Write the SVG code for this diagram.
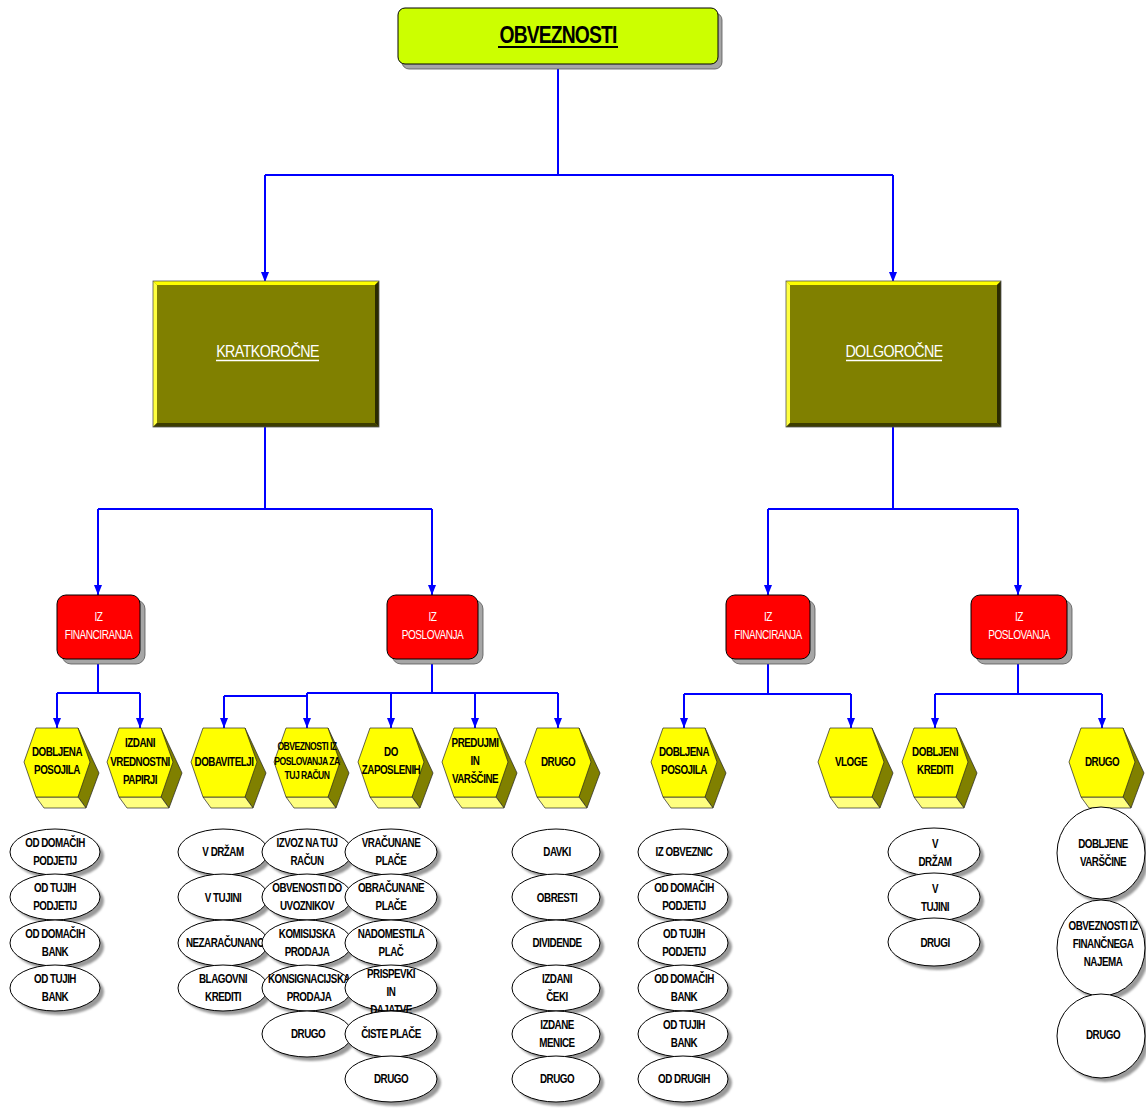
<svg xmlns="http://www.w3.org/2000/svg" xmlns:xlink="http://www.w3.org/1999/xlink" width="1146" height="1109" viewBox="0 0 1146 1109">
  <style>
    .t { font-family: "Liberation Sans", Arial, sans-serif; font-size: 12px; font-weight: bold; letter-spacing: -0.6px; text-anchor: middle; fill: #000; }
    .ts { font-size: 10px; }
    .tw { fill: #fff; font-weight: normal; }
    .title { font-family: "Liberation Sans", Arial, sans-serif; font-size: 23px; font-weight: bold; letter-spacing: -1px; text-anchor: middle; fill: #000; }
    .big { font-family: "Liberation Sans", Arial, sans-serif; font-size: 17px; letter-spacing: -0.7px; text-anchor: middle; fill: #fff; }
    .cn path { fill: none; stroke: #0000FF; stroke-width: 2; }
    .cn .ar { marker-end: url(#ah); }
    .shadow { fill: #a6a6a6; stroke: #555; stroke-width: 0.8; }
    .red { fill: #FF0000; stroke: #000; stroke-width: 1; }
    .el { fill: #fff; stroke: #000; stroke-width: 1; }
    .esh { fill: #9a9a9a; filter: url(#soft); }
  </style>
  <defs>
    <marker id="ah" viewBox="0 0 10 8" refX="10" refY="4" markerWidth="10" markerHeight="8" markerUnits="userSpaceOnUse" orient="auto">
      <path d="M0,0 L10,4 L0,8 z" fill="#0000FF"/>
    </marker>
    <filter id="soft" x="-10%" y="-10%" width="120%" height="120%">
      <feGaussianBlur stdDeviation="1"/>
    </filter>
    <!-- hexagonal prism, origin at the centre of the top edge -->
    <g id="hex">
      <polygon points="21,0 42,45 29,80 21,69" fill="#808000" stroke="#222" stroke-width="0.7"/>
      <polygon points="-21,69 21,69 29,80 -13,80" fill="#FFFF80" stroke="#222" stroke-width="0.7"/>
      <polygon points="-21,0 21,0 33,34 21,69 -21,69 -33,34" fill="#FFFF00" stroke="#222" stroke-width="0.7"/>
    </g>
  </defs>

  <rect width="1146" height="1109" fill="#fff"/>

  <!-- connectors -->
  <g id="connectors" class="cn">
    <path d="M558,65 V175 M265,175 H893"/>
    <path class="ar" d="M265,175 V282"/>
    <path class="ar" d="M893,175 V282"/>

    <path d="M265,427 V509 M98,509 H432"/>
    <path class="ar" d="M98,509 V595"/>
    <path class="ar" d="M432,509 V595"/>

    <path d="M893,427 V509 M768,509 H1018"/>
    <path class="ar" d="M768,509 V595"/>
    <path class="ar" d="M1018,509 V595"/>

    <path d="M98,659 V693 M57,693 H140"/>
    <path class="ar" d="M57,693 V728"/>
    <path class="ar" d="M140,693 V728"/>

    <path d="M432,659 V693 M307,693 H558 M224,696 H307 V693"/>
    <path class="ar" d="M224,696 V728"/>
    <path class="ar" d="M307,693 V728"/>
    <path class="ar" d="M391,693 V728"/>
    <path class="ar" d="M475,693 V728"/>
    <path class="ar" d="M558,693 V728"/>

    <path d="M768,659 V694 M684,694 H851"/>
    <path class="ar" d="M684,694 V728"/>
    <path class="ar" d="M851,694 V728"/>

    <path d="M1018,659 V694 M935,694 H1102"/>
    <path class="ar" d="M935,694 V728"/>
    <path class="ar" d="M1102,694 V728"/>
  </g>

  <!-- root -->
  <g id="obveznosti">
    <rect x="402" y="13" width="320" height="56" rx="7" class="shadow"/>
    <rect x="398" y="8" width="320" height="56" rx="7" fill="#CCFF00" stroke="#000" stroke-width="1"/>
    <text class="title" transform="translate(558 0) scale(.84 1)" x="0" y="43">OBVEZNOSTI</text>
    <line x1="498" y1="47" x2="618" y2="47" stroke="#000" stroke-width="2.2"/>
  </g>

  <!-- bevelled level boxes -->
  <g id="kratkorocne">
    <rect x="153" y="281" width="226" height="146" fill="#808000"/>
    <polygon points="153,281 379,281 375,285 157,285" fill="#FFFF00"/>
    <polygon points="153,281 157,285 157,423 153,427" fill="#FFFF40"/>
    <polygon points="379,281 379,427 375,423 375,285" fill="#2b2b00"/>
    <polygon points="153,427 379,427 375,423 157,423" fill="#3d3d00"/>
    <rect x="153" y="281" width="226" height="146" fill="none" stroke="#555" stroke-width="0.8"/>
    <text class="big" transform="translate(267.5 0) scale(.84 1)" x="0" y="357">KRATKOROČNE</text>
    <line x1="216" y1="360.5" x2="319" y2="360.5" stroke="#fff" stroke-width="1.5"/>
  </g>

  <g id="dolgorocne">
    <rect x="786" y="281" width="215" height="146" fill="#808000"/>
    <polygon points="786,281 1001,281 997,285 790,285" fill="#FFFF00"/>
    <polygon points="786,281 790,285 790,423 786,427" fill="#FFFF40"/>
    <polygon points="1001,281 1001,427 997,423 997,285" fill="#2b2b00"/>
    <polygon points="786,427 1001,427 997,423 790,423" fill="#3d3d00"/>
    <rect x="786" y="281" width="215" height="146" fill="none" stroke="#555" stroke-width="0.8"/>
    <text class="big" transform="translate(894 0) scale(.84 1)" x="0" y="357">DOLGOROČNE</text>
    <line x1="846" y1="360.5" x2="942" y2="360.5" stroke="#fff" stroke-width="1.5"/>
  </g>

  <!-- red source boxes -->
  <g id="k-financiranje">
    <rect x="62" y="600" width="83" height="64" rx="9" class="shadow"/>
    <rect x="57" y="595" width="83" height="64" rx="9" class="red"/>
    <text class="t tw" transform="translate(98.5 0) scale(.84 1)"><tspan x="0" y="621">IZ</tspan><tspan x="0" y="639">FINANCIRANJA</tspan></text>
  </g>
  <g id="k-poslovanje">
    <rect x="392" y="600" width="91" height="64" rx="9" class="shadow"/>
    <rect x="387" y="595" width="91" height="64" rx="9" class="red"/>
    <text class="t tw" transform="translate(432.5 0) scale(.84 1)"><tspan x="0" y="621">IZ</tspan><tspan x="0" y="639">POSLOVANJA</tspan></text>
  </g>
  <g id="d-financiranje">
    <rect x="731" y="600" width="84" height="64" rx="9" class="shadow"/>
    <rect x="726" y="595" width="84" height="64" rx="9" class="red"/>
    <text class="t tw" transform="translate(768 0) scale(.84 1)"><tspan x="0" y="621">IZ</tspan><tspan x="0" y="639">FINANCIRANJA</tspan></text>
  </g>
  <g id="d-poslovanje">
    <rect x="976" y="600" width="96" height="64" rx="9" class="shadow"/>
    <rect x="971" y="595" width="96" height="64" rx="9" class="red"/>
    <text class="t tw" transform="translate(1019 0) scale(.84 1)"><tspan x="0" y="621">IZ</tspan><tspan x="0" y="639">POSLOVANJA</tspan></text>
  </g>

  <!-- hexagon categories -->
  <g id="h-posojila">
    <use xlink:href="#hex" x="57" y="728"/>
    <text class="t" transform="translate(57 0) scale(.82 1)"><tspan x="0" y="756">DOBLJENA</tspan><tspan x="0" y="774">POSOJILA</tspan></text>
  </g>
  <g id="h-papirji">
    <use xlink:href="#hex" x="140" y="728"/>
    <text class="t" transform="translate(140 0) scale(.82 1)"><tspan x="0" y="747">IZDANI</tspan><tspan x="0" y="766">VREDNOSTNI</tspan><tspan x="0" y="784">PAPIRJI</tspan></text>
  </g>
  <g id="h-dobavitelji">
    <use xlink:href="#hex" x="224" y="728"/>
    <text class="t" transform="translate(224 0) scale(.82 1)" x="0" y="766">DOBAVITELJI</text>
  </g>
  <g id="h-tuj-racun">
    <use xlink:href="#hex" x="307" y="728"/>
    <text class="t ts" transform="translate(307 0) scale(.86 1)"><tspan x="0" y="750.5">OBVEZNOSTI IZ</tspan><tspan x="0" y="765.5">POSLOVANJA ZA</tspan><tspan x="0" y="779.5">TUJ RAČUN</tspan></text>
  </g>
  <g id="h-zaposleni">
    <use xlink:href="#hex" x="391" y="728"/>
    <text class="t" transform="translate(391 0) scale(.82 1)"><tspan x="0" y="756">DO</tspan><tspan x="0" y="774">ZAPOSLENIH</tspan></text>
  </g>
  <g id="h-predujmi">
    <use xlink:href="#hex" x="475" y="728"/>
    <text class="t" transform="translate(475 0) scale(.82 1)"><tspan x="0" y="747">PREDUJMI</tspan><tspan x="0" y="765">IN</tspan><tspan x="0" y="783">VARŠČINE</tspan></text>
  </g>
  <g id="h-drugo-k">
    <use xlink:href="#hex" x="558" y="728"/>
    <text class="t" transform="translate(558 0) scale(.82 1)" x="0" y="766">DRUGO</text>
  </g>
  <g id="h-posojila-d">
    <use xlink:href="#hex" x="684" y="728"/>
    <text class="t" transform="translate(684 0) scale(.82 1)"><tspan x="0" y="756">DOBLJENA</tspan><tspan x="0" y="774">POSOJILA</tspan></text>
  </g>
  <g id="h-vloge">
    <use xlink:href="#hex" x="851" y="728"/>
    <text class="t" transform="translate(851 0) scale(.82 1)" x="0" y="766">VLOGE</text>
  </g>
  <g id="h-krediti">
    <use xlink:href="#hex" x="935" y="728"/>
    <text class="t" transform="translate(935 0) scale(.82 1)"><tspan x="0" y="756">DOBLJENI</tspan><tspan x="0" y="774">KREDITI</tspan></text>
  </g>
  <g id="h-drugo-d">
    <use xlink:href="#hex" x="1102" y="728"/>
    <text class="t" transform="translate(1102 0) scale(.82 1)" x="0" y="766">DRUGO</text>
  </g>

  <!-- leaf items: dobljena posojila -->
  <g id="e-a1"><ellipse class="esh" cx="59" cy="856" rx="45" ry="23"/><ellipse class="el" cx="55" cy="852" rx="45" ry="23"/>
    <text class="t" transform="translate(55 0) scale(.82 1)"><tspan x="0" y="847">OD DOMAČIH</tspan><tspan x="0" y="865">PODJETIJ</tspan></text></g>
  <g id="e-a2"><ellipse class="esh" cx="59" cy="901" rx="45" ry="23"/><ellipse class="el" cx="55" cy="897" rx="45" ry="23"/>
    <text class="t" transform="translate(55 0) scale(.82 1)"><tspan x="0" y="892">OD TUJIH</tspan><tspan x="0" y="910">PODJETIJ</tspan></text></g>
  <g id="e-a3"><ellipse class="esh" cx="59" cy="947" rx="45" ry="23"/><ellipse class="el" cx="55" cy="943" rx="45" ry="23"/>
    <text class="t" transform="translate(55 0) scale(.82 1)"><tspan x="0" y="938">OD DOMAČIH</tspan><tspan x="0" y="956">BANK</tspan></text></g>
  <g id="e-a4"><ellipse class="esh" cx="59" cy="992" rx="45" ry="23"/><ellipse class="el" cx="55" cy="988" rx="45" ry="23"/>
    <text class="t" transform="translate(55 0) scale(.82 1)"><tspan x="0" y="983">OD TUJIH</tspan><tspan x="0" y="1001">BANK</tspan></text></g>

  <!-- dobavitelji -->
  <g id="e-b1"><ellipse class="esh" cx="227" cy="856" rx="45" ry="23"/><ellipse class="el" cx="223" cy="852" rx="45" ry="23"/>
    <text class="t" transform="translate(223 0) scale(.82 1)" x="0" y="856">V DRŽAM</text></g>
  <g id="e-b2"><ellipse class="esh" cx="227" cy="901" rx="45" ry="23"/><ellipse class="el" cx="223" cy="897" rx="45" ry="23"/>
    <text class="t" transform="translate(223 0) scale(.82 1)" x="0" y="902">V TUJINI</text></g>
  <g id="e-b3"><ellipse class="esh" cx="227" cy="947" rx="45" ry="23"/><ellipse class="el" cx="223" cy="943" rx="45" ry="23"/>
    <text class="t" transform="translate(225 0) scale(.82 1)" x="0" y="947">NEZARAČUNANO</text></g>
  <g id="e-b4"><ellipse class="esh" cx="227" cy="992" rx="45" ry="23"/><ellipse class="el" cx="223" cy="988" rx="45" ry="23"/>
    <text class="t" transform="translate(223 0) scale(.82 1)"><tspan x="0" y="983">BLAGOVNI</tspan><tspan x="0" y="1001">KREDITI</tspan></text></g>

  <!-- obveznosti za tuj račun -->
  <g id="e-c1"><ellipse class="esh" cx="311" cy="856" rx="45" ry="23"/><ellipse class="el" cx="307" cy="852" rx="45" ry="23"/>
    <text class="t" transform="translate(307 0) scale(.82 1)"><tspan x="0" y="847">IZVOZ NA TUJ</tspan><tspan x="0" y="865">RAČUN</tspan></text></g>
  <g id="e-c2"><ellipse class="esh" cx="311" cy="901" rx="45" ry="23"/><ellipse class="el" cx="307" cy="897" rx="45" ry="23"/>
    <text class="t" transform="translate(307 0) scale(.82 1)"><tspan x="0" y="892">OBVENOSTI DO</tspan><tspan x="0" y="910">UVOZNIKOV</tspan></text></g>
  <g id="e-c3"><ellipse class="esh" cx="311" cy="947" rx="45" ry="23"/><ellipse class="el" cx="307" cy="943" rx="45" ry="23"/>
    <text class="t" transform="translate(307 0) scale(.82 1)"><tspan x="0" y="938">KOMISIJSKA</tspan><tspan x="0" y="956">PRODAJA</tspan></text></g>
  <g id="e-c4"><ellipse class="esh" cx="311" cy="992" rx="45" ry="23"/><ellipse class="el" cx="307" cy="988" rx="45" ry="23"/>
    <text class="t" transform="translate(309 0) scale(.82 1)"><tspan x="0" y="983">KONSIGNACIJSKA</tspan><tspan x="0" y="1001">PRODAJA</tspan></text></g>
  <g id="e-c5"><ellipse class="esh" cx="311" cy="1038" rx="45" ry="23"/><ellipse class="el" cx="307" cy="1034" rx="45" ry="23"/>
    <text class="t" transform="translate(308 0) scale(.82 1)" x="0" y="1038">DRUGO</text></g>

  <!-- do zaposlenih -->
  <g id="e-d1"><ellipse class="esh" cx="395" cy="856" rx="46" ry="23"/><ellipse class="el" cx="391" cy="852" rx="46" ry="23"/>
    <text class="t" transform="translate(391 0) scale(.82 1)"><tspan x="0" y="847">VRAČUNANE</tspan><tspan x="0" y="865">PLAČE</tspan></text></g>
  <g id="e-d2"><ellipse class="esh" cx="395" cy="901" rx="46" ry="23"/><ellipse class="el" cx="391" cy="897" rx="46" ry="23"/>
    <text class="t" transform="translate(391 0) scale(.82 1)"><tspan x="0" y="892">OBRAČUNANE</tspan><tspan x="0" y="910">PLAČE</tspan></text></g>
  <g id="e-d3"><ellipse class="esh" cx="395" cy="947" rx="46" ry="23"/><ellipse class="el" cx="391" cy="943" rx="46" ry="23"/>
    <text class="t" transform="translate(391 0) scale(.82 1)"><tspan x="0" y="938">NADOMESTILA</tspan><tspan x="0" y="956">PLAČ</tspan></text></g>
  <g id="e-d4"><ellipse class="esh" cx="395" cy="992" rx="46" ry="23"/><ellipse class="el" cx="391" cy="988" rx="46" ry="23"/>
    <text class="t" transform="translate(391 0) scale(.82 1)"><tspan x="0" y="978">PRISPEVKI</tspan><tspan x="0" y="996">IN</tspan><tspan x="0" y="1014">DAJATVE</tspan></text></g>
  <g id="e-d5"><ellipse class="esh" cx="395" cy="1038" rx="46" ry="23"/><ellipse class="el" cx="391" cy="1034" rx="46" ry="23"/>
    <text class="t" transform="translate(391 0) scale(.82 1)" x="0" y="1038">ČISTE PLAČE</text></g>
  <g id="e-d6"><ellipse class="esh" cx="395" cy="1083" rx="46" ry="23"/><ellipse class="el" cx="391" cy="1079" rx="46" ry="23"/>
    <text class="t" transform="translate(391 0) scale(.82 1)" x="0" y="1083">DRUGO</text></g>

  <!-- drugo (kratkoročne) -->
  <g id="e-e1"><ellipse class="esh" cx="560" cy="856" rx="44" ry="23"/><ellipse class="el" cx="556" cy="852" rx="44" ry="23"/>
    <text class="t" transform="translate(557 0) scale(.82 1)" x="0" y="856">DAVKI</text></g>
  <g id="e-e2"><ellipse class="esh" cx="560" cy="901" rx="44" ry="23"/><ellipse class="el" cx="556" cy="897" rx="44" ry="23"/>
    <text class="t" transform="translate(557 0) scale(.82 1)" x="0" y="902">OBRESTI</text></g>
  <g id="e-e3"><ellipse class="esh" cx="560" cy="947" rx="44" ry="23"/><ellipse class="el" cx="556" cy="943" rx="44" ry="23"/>
    <text class="t" transform="translate(557 0) scale(.82 1)" x="0" y="947">DIVIDENDE</text></g>
  <g id="e-e4"><ellipse class="esh" cx="560" cy="992" rx="44" ry="23"/><ellipse class="el" cx="556" cy="988" rx="44" ry="23"/>
    <text class="t" transform="translate(557 0) scale(.82 1)"><tspan x="0" y="983">IZDANI</tspan><tspan x="0" y="1001">ČEKI</tspan></text></g>
  <g id="e-e5"><ellipse class="esh" cx="560" cy="1038" rx="44" ry="23"/><ellipse class="el" cx="556" cy="1034" rx="44" ry="23"/>
    <text class="t" transform="translate(557 0) scale(.82 1)"><tspan x="0" y="1029">IZDANE</tspan><tspan x="0" y="1047">MENICE</tspan></text></g>
  <g id="e-e6"><ellipse class="esh" cx="560" cy="1083" rx="44" ry="23"/><ellipse class="el" cx="556" cy="1079" rx="44" ry="23"/>
    <text class="t" transform="translate(557 0) scale(.82 1)" x="0" y="1083">DRUGO</text></g>

  <!-- dobljena posojila (dolgoročne) -->
  <g id="e-f1"><ellipse class="esh" cx="687" cy="856" rx="45" ry="23"/><ellipse class="el" cx="683" cy="852" rx="45" ry="23"/>
    <text class="t" transform="translate(684 0) scale(.82 1)" x="0" y="856">IZ OBVEZNIC</text></g>
  <g id="e-f2"><ellipse class="esh" cx="687" cy="901" rx="45" ry="23"/><ellipse class="el" cx="683" cy="897" rx="45" ry="23"/>
    <text class="t" transform="translate(684 0) scale(.82 1)"><tspan x="0" y="892">OD DOMAČIH</tspan><tspan x="0" y="910">PODJETIJ</tspan></text></g>
  <g id="e-f3"><ellipse class="esh" cx="687" cy="947" rx="45" ry="23"/><ellipse class="el" cx="683" cy="943" rx="45" ry="23"/>
    <text class="t" transform="translate(684 0) scale(.82 1)"><tspan x="0" y="938">OD TUJIH</tspan><tspan x="0" y="956">PODJETIJ</tspan></text></g>
  <g id="e-f4"><ellipse class="esh" cx="687" cy="992" rx="45" ry="23"/><ellipse class="el" cx="683" cy="988" rx="45" ry="23"/>
    <text class="t" transform="translate(684 0) scale(.82 1)"><tspan x="0" y="983">OD DOMAČIH</tspan><tspan x="0" y="1001">BANK</tspan></text></g>
  <g id="e-f5"><ellipse class="esh" cx="687" cy="1038" rx="45" ry="23"/><ellipse class="el" cx="683" cy="1034" rx="45" ry="23"/>
    <text class="t" transform="translate(684 0) scale(.82 1)"><tspan x="0" y="1029">OD TUJIH</tspan><tspan x="0" y="1047">BANK</tspan></text></g>
  <g id="e-f6"><ellipse class="esh" cx="687" cy="1083" rx="45" ry="23"/><ellipse class="el" cx="683" cy="1079" rx="45" ry="23"/>
    <text class="t" transform="translate(684 0) scale(.82 1)" x="0" y="1083">OD DRUGIH</text></g>

  <!-- dobljeni krediti -->
  <g id="e-g1"><ellipse class="esh" cx="938" cy="856" rx="46" ry="24"/><ellipse class="el" cx="934" cy="852" rx="46" ry="24"/>
    <text class="t" transform="translate(935 0) scale(.82 1)"><tspan x="0" y="848">V</tspan><tspan x="0" y="866">DRŽAM</tspan></text></g>
  <g id="e-g2"><ellipse class="esh" cx="938" cy="901" rx="46" ry="24"/><ellipse class="el" cx="934" cy="897" rx="46" ry="24"/>
    <text class="t" transform="translate(935 0) scale(.82 1)"><tspan x="0" y="893">V</tspan><tspan x="0" y="911">TUJINI</tspan></text></g>
  <g id="e-g3"><ellipse class="esh" cx="938" cy="946" rx="46" ry="24"/><ellipse class="el" cx="934" cy="942" rx="46" ry="24"/>
    <text class="t" transform="translate(935 0) scale(.82 1)" x="0" y="947">DRUGI</text></g>

  <!-- drugo (dolgoročne) -->
  <g id="e-h1"><ellipse class="esh" cx="1105" cy="857" rx="44" ry="46"/><ellipse class="el" cx="1101" cy="853" rx="44" ry="46"/>
    <text class="t" transform="translate(1103 0) scale(.82 1)"><tspan x="0" y="848">DOBLJENE</tspan><tspan x="0" y="866">VARŠČINE</tspan></text></g>
  <g id="e-h2"><ellipse class="esh" cx="1105" cy="952" rx="44" ry="48"/><ellipse class="el" cx="1101" cy="948" rx="44" ry="48"/>
    <text class="t" transform="translate(1103 0) scale(.82 1)"><tspan x="0" y="930">OBVEZNOSTI IZ</tspan><tspan x="0" y="948">FINANČNEGA</tspan><tspan x="0" y="966">NAJEMA</tspan></text></g>
  <g id="e-h3"><ellipse class="esh" cx="1105" cy="1040" rx="44" ry="42"/><ellipse class="el" cx="1101" cy="1036" rx="44" ry="42"/>
    <text class="t" transform="translate(1103 0) scale(.82 1)" x="0" y="1039">DRUGO</text></g>
</svg>
